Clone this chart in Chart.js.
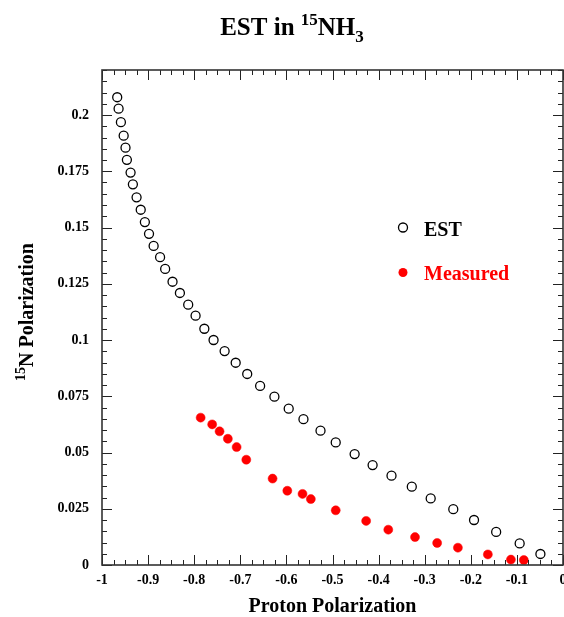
<!DOCTYPE html>
<html><head><meta charset="utf-8">
<script src="https://cdn.jsdelivr.net/npm/chart.js@4.4.0/dist/chart.umd.min.js"></script>
<style>html,body{margin:0;padding:0;background:#fff;overflow:hidden}</style>
</head><body>
<canvas id="c" width="564" height="617" style="display:block;width:564px;height:617px"></canvas>
<script>
// ---- data ----
const estX = [-0.967,-0.964,-0.959,-0.953,-0.949,-0.946,-0.938,-0.933,-0.925,-0.916,-0.907,-0.898,-0.888,-0.874,-0.863,-0.847,-0.831,-0.813,-0.797,-0.778,-0.758,-0.734,-0.710,-0.685,-0.657,-0.626,-0.595,-0.563,-0.526,-0.493,-0.452,-0.413,-0.372,-0.328,-0.287,-0.238,-0.193,-0.145,-0.094,-0.049];
const estY = [0.2079,0.2028,0.1968,0.1908,0.1855,0.1801,0.1744,0.1692,0.1634,0.1579,0.1524,0.1472,0.1418,0.1368,0.1316,0.1259,0.1209,0.1157,0.1108,0.1050,0.1000,0.0951,0.0899,0.0849,0.0796,0.0748,0.0695,0.0648,0.0597,0.0545,0.0493,0.0444,0.0397,0.0348,0.0296,0.0248,0.0200,0.0147,0.0096,0.0049];
const measX = [-0.786,-0.761,-0.745,-0.727,-0.708,-0.687,-0.630,-0.598,-0.565,-0.547,-0.493,-0.427,-0.379,-0.321,-0.273,-0.228,-0.163,-0.113,-0.085];
const measY = [0.0655,0.0625,0.0594,0.0561,0.0524,0.0468,0.0384,0.0330,0.0316,0.0293,0.0243,0.0196,0.0157,0.0124,0.0098,0.0077,0.0047,0.0024,0.0022];
const xTickLabels = ['-1','-0.9','-0.8','-0.7','-0.6','-0.5','-0.4','-0.3','-0.2','-0.1','0'];
const yTickLabels = ['0','0.025','0.05','0.075','0.1','0.125','0.15','0.175','0.2'];
const seriesNames = ['EST','Measured'];
const xTitle = 'Proton Polarization';

const FONT = "'Liberation Serif','Times New Roman',serif";
const toPts = (xs, ys) => xs.map((v, i) => ({x: v, y: ys[i]}));
const labelFor = (arr, v) => { const s = arr.find(t => Math.abs(parseFloat(t) - v) < 1e-9); return s === undefined ? '' : s; };

const framePlugin = {
  id: 'frame',
  afterDatasetsDraw(chart) {
    const {ctx, chartArea: a, scales: {x, y}} = chart;
    ctx.save();
    ctx.strokeStyle = '#222';
    ctx.lineWidth = 1;
    ctx.beginPath();
    for (let k = 0; k <= 40; k++) {
      const px = Math.round(x.getPixelForValue(-1 + k * 0.025)) + 0.5;
      const L = k % 4 === 0 ? 10 : 5;
      ctx.moveTo(px, a.bottom); ctx.lineTo(px, a.bottom - L);
      ctx.moveTo(px, a.top); ctx.lineTo(px, a.top + L);
    }
    for (let k = 0; k <= 44; k++) {
      const py = Math.round(y.getPixelForValue(k * 0.005)) + 0.5;
      const L = k % 5 === 0 ? 10 : 5;
      ctx.moveTo(a.left, py); ctx.lineTo(a.left + L, py);
      ctx.moveTo(a.right, py); ctx.lineTo(a.right - L, py);
    }
    ctx.stroke();
    ctx.lineWidth = 1.6;
    ctx.strokeStyle = '#333';
    ctx.strokeRect(a.left, a.top, a.right - a.left, a.bottom - a.top);
    ctx.restore();
  }
};

const textPlugin = {
  id: 'texts',
  afterDraw(chart) {
    const ctx = chart.ctx;
    ctx.save();
    ctx.fillStyle = '#000';
    ctx.textBaseline = 'alphabetic';
    // main title with super/subscripts
    const big = `bold 25px ${FONT}`, small = `bold 17px ${FONT}`;
    const parts = [['EST in ', big, 0], ['15', small, -10], ['NH', big, 0], ['3', small, 7]];
    let W = 0;
    parts.forEach(p => { ctx.font = p[1]; W += ctx.measureText(p[0]).width; });
    let cx = 292 - W / 2;
    parts.forEach(p => { ctx.font = p[1]; ctx.fillText(p[0], cx, 35 + p[2]); cx += ctx.measureText(p[0]).width; });
    // y axis title rotated
    ctx.translate(26, 312);
    ctx.rotate(-Math.PI / 2);
    const yparts = [['15', `bold 14px ${FONT}`, -8], ['N Polarization', `bold 20px ${FONT}`, 0]];
    W = 0;
    yparts.forEach(p => { ctx.font = p[1]; W += ctx.measureText(p[0]).width; });
    cx = -W / 2;
    yparts.forEach(p => { ctx.font = p[1]; ctx.fillText(p[0], cx, 7 + p[2]); cx += ctx.measureText(p[0]).width; });
    ctx.restore();

    // legend
    ctx.save();
    ctx.font = `bold 20px ${FONT}`;
    ctx.textBaseline = 'alphabetic';
    ctx.lineWidth = 1.3;
    ctx.strokeStyle = '#000';
    ctx.beginPath(); ctx.arc(403, 227.5, 4.5, 0, Math.PI * 2); ctx.stroke();
    ctx.fillStyle = '#000';
    ctx.fillText(seriesNames[0], 424, 235.5);
    ctx.fillStyle = '#ff0000';
    ctx.beginPath(); ctx.arc(403, 272.5, 4.5, 0, Math.PI * 2); ctx.fill();
    ctx.fillText(seriesNames[1], 424, 280);
    ctx.restore();
  }
};

new Chart(document.getElementById('c'), {
  type: 'scatter',
  data: {
    datasets: [
      {label: seriesNames[0], data: toPts(estX, estY), pointStyle: 'circle', pointRadius: 4.5, pointHoverRadius: 4.5,
       borderColor: '#000', backgroundColor: 'rgba(0,0,0,0)', pointBorderWidth: 1.3, showLine: false},
      {label: seriesNames[1], data: toPts(measX, measY), pointStyle: 'circle', pointRadius: 4.5, pointHoverRadius: 4.5,
       borderColor: '#ff0000', backgroundColor: '#ff0000', pointBorderWidth: 0.5, showLine: false}
    ]
  },
  options: {
    responsive: false,
    animation: false,
    devicePixelRatio: 1,
    layout: {autoPadding: false, padding: {left: 0, right: 1, top: 70, bottom: 0}},
    plugins: {legend: {display: false}, tooltip: {enabled: false}, title: {display: false}},
    scales: {
      x: {
        type: 'linear', position: 'bottom', min: -1, max: 0,
        grid: {display: false, drawTicks: false},
        border: {display: false},
        ticks: {stepSize: 0.1, maxRotation: 0, autoSkip: false, padding: 7, color: '#000',
                font: {family: FONT, weight: 'bold', size: 14},
                callback: v => labelFor(xTickLabels, v)},
        title: {display: true, text: xTitle, color: '#000', padding: {top: 0, bottom: 0},
                font: {family: FONT, weight: 'bold', size: 20, lineHeight: 1}},
        afterFit(s) { s.height = 52; s.paddingLeft = 0; s.paddingRight = 0; }
      },
      y: {
        type: 'linear', position: 'left', min: 0, max: 0.22,
        grid: {display: false, drawTicks: false},
        border: {display: false},
        ticks: {stepSize: 0.025, includeBounds: false, autoSkip: false, padding: 13, color: '#000',
                font: {family: FONT, weight: 'bold', size: 14},
                callback: v => labelFor(yTickLabels, v)},
        afterFit(s) { s.width = 102; s.paddingTop = 0; s.paddingBottom = 0; }
      }
    }
  },
  plugins: [framePlugin, textPlugin]
});
</script>
</body></html>
